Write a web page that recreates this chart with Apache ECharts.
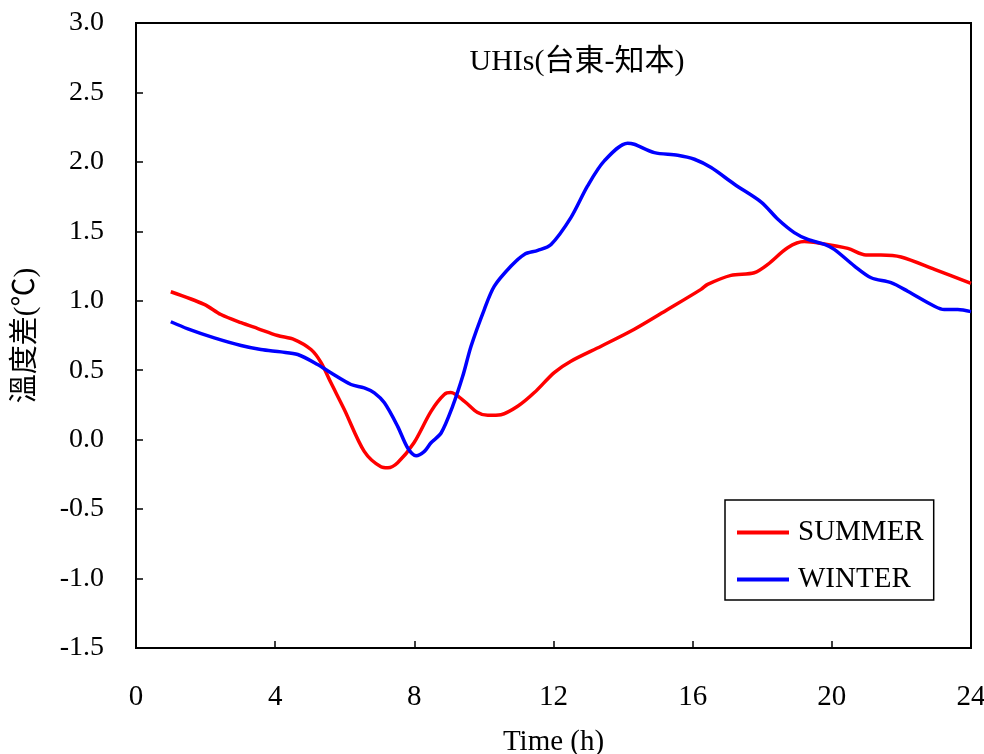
<!DOCTYPE html>
<html><head><meta charset="utf-8">
<script src="https://cdn.jsdelivr.net/npm/echarts@6/dist/echarts.min.js"></script>
<style>html,body{margin:0;padding:0;background:#fff}#c{width:984px;height:754px}</style>
</head><body><div id="c"></div>
<script>
var summerT = [1.0,1.96,2.44,3.02,3.5,4.07,4.55,5.03,5.32,5.6,5.99,6.56,7.04,7.24,7.52,7.99,8.48,8.86,9.05,9.44,9.82,10.11,10.49,10.97,11.45,12.02,12.5,13.37,14.31,15.28,16.24,16.43,17.1,17.77,18.16,18.73,19.21,19.69,20.46,20.98,21.41,21.99,22.95,24.0];
var summerV = [1.065,0.974,0.901,0.842,0.800,0.750,0.721,0.649,0.555,0.411,0.216,-0.084,-0.195,-0.202,-0.166,-0.022,0.204,0.325,0.339,0.276,0.195,0.175,0.180,0.240,0.339,0.483,0.565,0.673,0.793,0.937,1.082,1.118,1.183,1.202,1.262,1.382,1.426,1.413,1.377,1.329,1.329,1.315,1.226,1.125];
var winterT = [1.0,1.49,2.25,3.02,3.59,4.17,4.65,5.22,5.6,6.18,6.56,6.85,7.14,7.52,7.81,8.05,8.29,8.48,8.77,9.1,9.39,9.63,10.01,10.3,10.78,11.16,11.55,11.93,12.5,12.98,13.46,14.13,14.32,14.9,15.57,16.05,16.53,17.2,17.97,18.45,18.92,19.31,19.79,20.07,20.65,21.13,21.7,22.18,22.95,23.23,23.62,24.0];
var winterV = [0.849,0.798,0.733,0.678,0.649,0.632,0.613,0.541,0.481,0.397,0.373,0.337,0.265,0.096,-0.060,-0.115,-0.084,-0.022,0.048,0.240,0.456,0.673,0.937,1.105,1.250,1.334,1.363,1.406,1.599,1.827,2.007,2.135,2.127,2.067,2.048,2.019,1.959,1.839,1.711,1.587,1.491,1.442,1.406,1.370,1.250,1.166,1.130,1.069,0.961,0.937,0.937,0.922];
var seriesNames = ['SUMMER','WINTER'];
var titleText = 'UHIs(台東-知本)';
var xName = 'Time (h)';
var yName = '溫度差(℃)';

function pairs(t, v){ return t.map(function(x,i){ return [x, v[i]]; }); }
var font = '"Liberation Serif","Noto Sans CJK TC",serif';
var chart = echarts.init(document.getElementById('c'));
chart.setOption({
  animation:false,
  title:{text:titleText, left:572, top:42, textAlign:'center',
    textStyle:{fontFamily:font, fontSize:30, fontWeight:'normal', color:'#000'}},
  grid:{left:136, right:13, top:23, bottom:106, show:true, borderColor:'#000', borderWidth:2,
    containLabel:false, outerBoundsMode:'none'},
  legend:{orient:'vertical', left:725, top:500, width:208, padding:[18,10,6,12],
    borderColor:'#000', borderWidth:1.5, itemWidth:52, itemHeight:4, itemGap:18, icon:'rect',
    textStyle:{fontFamily:font, fontSize:29, color:'#000', padding:[0,0,0,4]},
    data:seriesNames},
  xAxis:{type:'value', min:0, max:24, interval:4, name:xName, nameLocation:'middle', nameGap:80,
    nameTextStyle:{fontFamily:font, fontSize:29, color:'#000'},
    axisLine:{show:true, onZero:false, lineStyle:{color:'#000', width:2}},
    axisTick:{show:true, inside:true, length:7, lineStyle:{color:'#000', width:1.5}},
    axisLabel:{fontFamily:font, fontSize:29, color:'#000', margin:35},
    splitLine:{show:false}},
  yAxis:{type:'value', min:-1.5, max:3.0, interval:0.5, name:yName, nameLocation:'middle', nameGap:95,
    nameRotate:90,
    nameTextStyle:{fontFamily:font, fontSize:29, color:'#000'},
    axisLine:{show:true, onZero:false, lineStyle:{color:'#000', width:2}},
    axisTick:{show:true, inside:true, length:7, lineStyle:{color:'#000', width:1.5}},
    axisLabel:{fontFamily:font, fontSize:28, color:'#000', margin:32, formatter:function(v){return v.toFixed(1);}},
    splitLine:{show:false}},
  series:[
    {name:seriesNames[0], type:'line', data:pairs(summerT, summerV), symbol:'none', smooth:0.3,
      lineStyle:{color:'#ff0000', width:3.5}, itemStyle:{color:'#ff0000'}},
    {name:seriesNames[1], type:'line', data:pairs(winterT, winterV), symbol:'none', smooth:0.3,
      lineStyle:{color:'#0000ff', width:3.5}, itemStyle:{color:'#0000ff'}}
  ]
});
</script></body></html>
